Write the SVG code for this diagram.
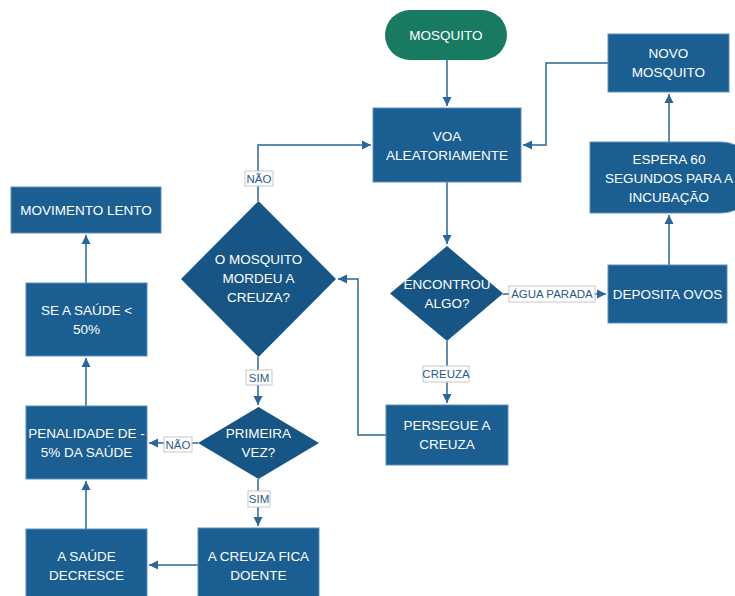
<svg xmlns="http://www.w3.org/2000/svg" width="735" height="596" viewBox="0 0 735 596">
<defs>
<marker id="arr" markerWidth="10" markerHeight="10" refX="9" refY="5" orient="auto" markerUnits="userSpaceOnUse">
<path d="M0,0.5 L9,5 L0,9.5 Z" fill="#2a6699"/>
</marker>
</defs>
<style>
.box{fill:#1b5e91;stroke:#5b8fbd;stroke-width:1}
.dia{fill:#175585;stroke:none}
.term{fill:#197a62}
.t{font-family:"Liberation Sans",Arial,sans-serif;font-size:13.5px;fill:#ffffff;text-anchor:middle}
.ln{fill:none;stroke:#2a6699;stroke-width:1.5}
.lb{fill:#ffffff;stroke:#c8c8c8;stroke-width:1}
.lt{font-family:"Liberation Sans",Arial,sans-serif;font-size:11.5px;fill:#2a5b8a;text-anchor:middle}
</style>
<rect width="735" height="596" fill="#ffffff"/>
<g id="connectors">
<path class="ln" d="M447,60 V106" marker-end="url(#arr)"/>
<path class="ln" d="M608,63 H546 V145 H523" marker-end="url(#arr)"/>
<path class="ln" d="M447,182 V244" marker-end="url(#arr)"/>
<path class="ln" d="M503,294 H606" marker-end="url(#arr)"/>
<path class="ln" d="M447,341 V403" marker-end="url(#arr)"/>
<path class="ln" d="M669,265 V215" marker-end="url(#arr)"/>
<path class="ln" d="M669,142 V94" marker-end="url(#arr)"/>
<path class="ln" d="M386,435 H358 V279 H338" marker-end="url(#arr)"/>
<path class="ln" d="M258,201 V145 H371" marker-end="url(#arr)"/>
<path class="ln" d="M258,357 V405" marker-end="url(#arr)"/>
<path class="ln" d="M198,443 H149" marker-end="url(#arr)"/>
<path class="ln" d="M258,479 V526" marker-end="url(#arr)"/>
<path class="ln" d="M198,565 H149" marker-end="url(#arr)"/>
<path class="ln" d="M86,529 V481" marker-end="url(#arr)"/>
<path class="ln" d="M86,406 V358" marker-end="url(#arr)"/>
<path class="ln" d="M86,283 V235" marker-end="url(#arr)"/>
<rect class="lb" x="509" y="286" width="86" height="16"/>
<text class="lt" x="552" y="298">ÁGUA PARADA</text>
<rect class="lb" x="423" y="366" width="46" height="16"/>
<text class="lt" x="446" y="378">CREUZA</text>
<rect class="lb" x="245" y="171" width="28" height="15"/>
<text class="lt" x="259" y="182.5">NÃO</text>
<rect class="lb" x="246" y="370" width="26" height="15"/>
<text class="lt" x="259" y="381.5">SIM</text>
<rect class="lb" x="164" y="437" width="28" height="15"/>
<text class="lt" x="178" y="448.5">NÃO</text>
<rect class="lb" x="248" y="491" width="22" height="16"/>
<text class="lt" x="259" y="503">SIM</text>
</g>
<g id="mosquito">
<rect class="term" x="385" y="10" width="122" height="50" rx="25" ry="25"/>
<text class="t" x="446" y="40">MOSQUITO</text>
</g>
<g id="voa">
<rect class="box" x="373" y="108" width="148" height="74"/>
<text class="t" x="447" y="141">VOA</text>
<text class="t" x="447" y="160">ALEATORIAMENTE</text>
</g>
<g id="novo">
<rect class="box" x="608" y="34" width="121" height="58"/>
<text class="t" x="668.5" y="58">NOVO</text>
<text class="t" x="668.5" y="77">MOSQUITO</text>
</g>
<g id="espera">
<path class="box" d="M590,142 H721 A35.5,35.5 0 0 1 721,213 H590 Z"/>
<text class="t" x="669" y="164">ESPERA 60</text>
<text class="t" x="669" y="183">SEGUNDOS PARA A</text>
<text class="t" x="669" y="202">INCUBAÇÃO</text>
</g>
<g id="deposita">
<rect class="box" x="608" y="265" width="119" height="58"/>
<text class="t" x="667.5" y="299">DEPOSITA OVOS</text>
</g>
<g id="encontrou">
<path class="dia" d="M447,246 L503,293.5 L447,341 L390,293.5 Z"/>
<text class="t" x="447" y="289">ENCONTROU</text>
<text class="t" x="447" y="308">ALGO?</text>
</g>
<g id="persegue">
<rect class="box" x="386" y="405" width="122" height="60"/>
<text class="t" x="447" y="430">PERSEGUE A</text>
<text class="t" x="447" y="449">CREUZA</text>
</g>
<g id="mordeu">
<path class="dia" d="M258.5,201 L336,279 L258.5,357 L181,279 Z"/>
<text class="t" x="258.5" y="264">O MOSQUITO</text>
<text class="t" x="258.5" y="283">MORDEU A</text>
<text class="t" x="258.5" y="302">CREUZA?</text>
</g>
<g id="primeira">
<path class="dia" d="M258.5,407 L319,443 L258.5,479 L198,443 Z"/>
<text class="t" x="258.5" y="438">PRIMEIRA</text>
<text class="t" x="258.5" y="457">VEZ?</text>
</g>
<g id="doente">
<rect class="box" x="198" y="528" width="121" height="72"/>
<text class="t" x="258.5" y="561">A CREUZA FICA</text>
<text class="t" x="258.5" y="580">DOENTE</text>
</g>
<g id="decresce">
<rect class="box" x="26" y="529" width="121" height="71"/>
<text class="t" x="86.5" y="561">A SAÚDE</text>
<text class="t" x="86.5" y="580">DECRESCE</text>
</g>
<g id="penalidade">
<rect class="box" x="26" y="406" width="121" height="73"/>
<text class="t" x="86.5" y="438">PENALIDADE DE -</text>
<text class="t" x="86.5" y="457">5% DA SAÚDE</text>
</g>
<g id="saude50">
<rect class="box" x="26" y="283" width="121" height="73"/>
<text class="t" x="86.5" y="315">SE A SAÚDE &lt;</text>
<text class="t" x="86.5" y="334">50%</text>
</g>
<g id="lento">
<rect class="box" x="11" y="187" width="150" height="46"/>
<text class="t" x="86" y="215">MOVIMENTO LENTO</text>
</g>
</svg>
